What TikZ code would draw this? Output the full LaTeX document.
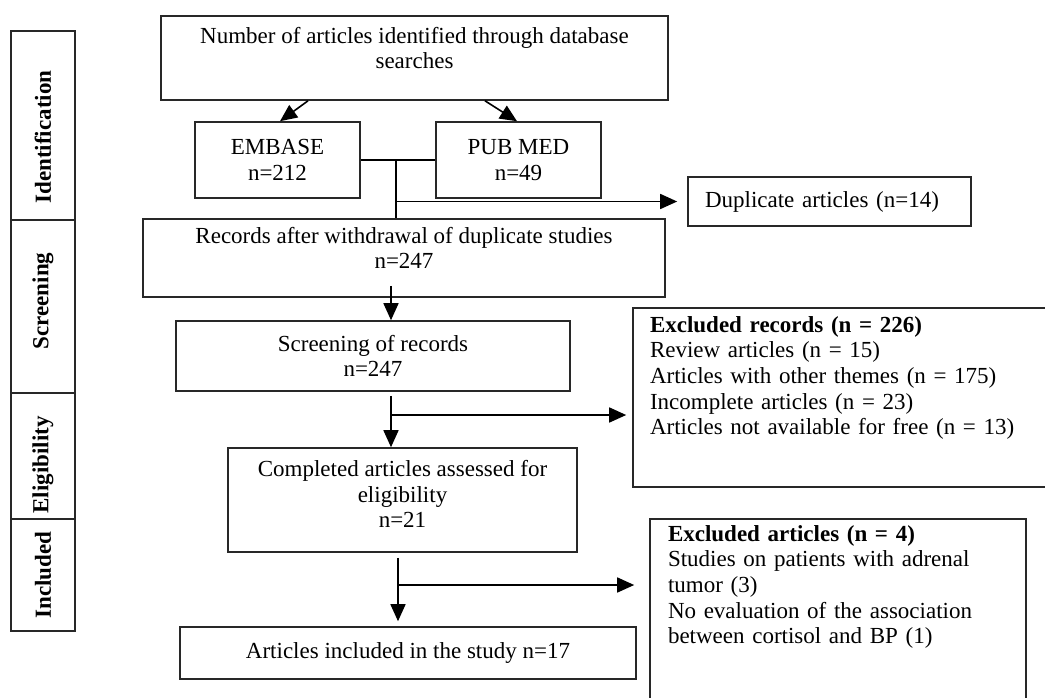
\documentclass[tikz,border=0pt]{standalone}
\usepackage{fontspec}
\setmainfont{Liberation Serif}
\usetikzlibrary{arrows.meta}
\definecolor{Frame}{RGB}{40, 40, 40}
\newcommand{\dropby}[1]{\rule[-#1]{0pt}{#1}}

\begin{document}
\begin{tikzpicture}[x=0.5pt,y=-0.5pt,
  font=\fontsize{11.5pt}{12.8pt}\selectfont,
  flowbox/.style={draw=Frame, line width=0.8pt, align=center, inner sep=0pt},
  notebox/.style={draw=Frame, line width=0.8pt, align=left, inner ysep=0pt},
  stage/.style={draw=Frame, line width=0.8pt, rotate=90, minimum height=32pt,
    inner sep=0pt, font=\fontsize{11.5pt}{12.8pt}\selectfont\bfseries},
  link/.style={draw=black, line width=0.8pt},
  arr/.style={link, -{Triangle[length=8.5pt,width=7.5pt]}}]
\useasboundingbox (0,0) rectangle (1045,697);
\clip (0,0) rectangle (1045,697);
%\draw[help lines] (0,0) grid[step=50] (1045,697);
% phases
\node[stage, minimum width=94.5pt] (ident) at (43,125.5) {Identification\hspace*{11.5pt}};
\node[stage, minimum width=86.5pt] (screening) at (43,306.5) {\hspace*{5.5pt}Screening};
\node[stage, minimum width=63pt] (eligibility) at (43,456) {Eligibility\hspace*{9pt}};
\node[stage, minimum width=56pt] (included) at (43,575) {Included};
% flow
\node[flowbox, minimum width=253.5pt, minimum height=42pt] (search) at (414.5,58)
  {Number of articles identified through database\\searches\dropby{10pt}};
\node[flowbox, minimum width=82.5pt, minimum height=38pt] (embase) at (277.5,160) {EMBASE\\n=212};
\node[flowbox, minimum width=82.5pt, minimum height=38pt] (pubmed) at (518.5,160) {PUB MED\\n=49};
\node[notebox, text width=124.5pt, inner xsep=8.5pt, minimum height=24.5pt] (dupl) at (829.5,201.5)
  {Duplicate articles (n=14)};
\node[flowbox, minimum width=261pt, minimum height=39pt] (records) at (404,258)
  {Records after withdrawal of duplicate studies\\n=247\dropby{10pt}};
\node[flowbox, minimum width=197pt, minimum height=35pt] (screen) at (373,356) {Screening of records\\n=247};
\node[flowbox, minimum width=174.5pt, minimum height=52pt] (elig) at (402.5,500)
  {Completed articles assessed for\\eligibility\\n=21\dropby{6pt}};
\node[flowbox, minimum width=228pt, minimum height=26pt] (incl) at (408,653) {Articles included in the study n=17};
% exclusions
\node[notebox, text width=196.5pt, inner xsep=8.5pt, minimum height=89.5pt] (exrec) at (846.5,397.5)
  {\textbf{Excluded records (n = 226)}\\Review articles (n = 15)\\Articles with other themes (n = 175)\\
   Incomplete articles (n = 23)\\Articles not available for free (n = 13)\dropby{22pt}};
\node[notebox, text width=170pt, inner xsep=9pt, minimum height=95.5pt] (exart) at (838,614.5)
  {\textbf{Excluded articles (n = 4)}\\Studies on patients with adrenal\\tumor (3)\\
   No evaluation of the association\\between cortisol and BP (1)\dropby{30pt}};
% connectors
\coordinate (merge) at (396,160);
\coordinate (split1) at (391,415);
\coordinate (split2) at (398,585);
\draw[arr] ([xshift=-53.25pt]search.south) -- ([xshift=1.25pt]embase.north);
\draw[arr] ([xshift=35.25pt]search.south) -- ([xshift=-0.75pt]pubmed.north);
\draw[link] (embase.east) -- (pubmed.west);
\draw[link] (merge) -- (merge |- records.north);
\draw[arr, shorten >=5pt] (merge |- dupl.west) -- (dupl.west);
\draw[arr, shorten <=-6pt] (split1 |- records.south) -- (split1 |- screen.north);
\draw[arr, shorten <=2pt] (split1 |- screen.south) -- (split1 |- elig.north);
\draw[arr, shorten >=3pt] (split1) -- (split1 -| exrec.west);
\draw[arr, shorten <=2.5pt, shorten >=2.5pt] (split2 |- elig.south) -- (split2 |- incl.north);
\draw[arr, shorten >=7.5pt] (split2) -- (split2 -| exart.west);
\end{tikzpicture}
\end{document}
